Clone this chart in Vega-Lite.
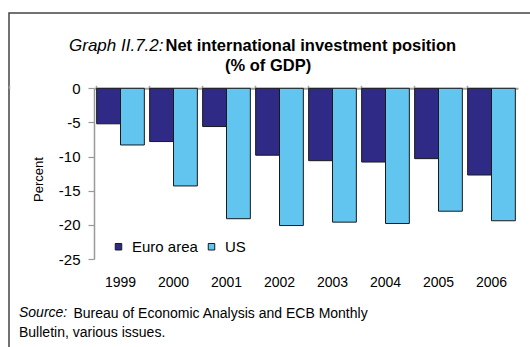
{
  "$schema": "https://vega.github.io/schema/vega-lite/v6.json",
  "width": 700,
  "height": 500,
  "autosize": {"type": "none"},
  "padding": {"left": 9, "top": 13, "right": -179, "bottom": -166},
  "background": "#ffffff",
  "title": {
    "text": "Source:",
    "subtitle": "Bulletin, various issues.",
    "orient": "bottom",
    "anchor": "start",
    "frame": "group",
    "align": "left",
    "dx": 10,
    "offset": -207,
    "font": "Liberation Sans",
    "fontSize": 14,
    "fontStyle": "italic",
    "fontWeight": "normal",
    "color": "#000000",
    "subtitleFont": "Liberation Sans",
    "subtitleFontSize": 14,
    "subtitleFontStyle": "normal",
    "subtitleFontWeight": "normal",
    "subtitleColor": "#000000",
    "subtitlePadding": 6
  },
  "data": {
    "values": [
      {"year": "1999", "series": "Euro area", "value": -5.2},
      {"year": "1999", "series": "US", "value": -8.3},
      {"year": "2000", "series": "Euro area", "value": -7.8},
      {"year": "2000", "series": "US", "value": -14.3},
      {"year": "2001", "series": "Euro area", "value": -5.6},
      {"year": "2001", "series": "US", "value": -19.1},
      {"year": "2002", "series": "Euro area", "value": -9.8},
      {"year": "2002", "series": "US", "value": -20.1},
      {"year": "2003", "series": "Euro area", "value": -10.6},
      {"year": "2003", "series": "US", "value": -19.6},
      {"year": "2004", "series": "Euro area", "value": -10.8},
      {"year": "2004", "series": "US", "value": -19.8},
      {"year": "2005", "series": "Euro area", "value": -10.3},
      {"year": "2005", "series": "US", "value": -18.0},
      {"year": "2006", "series": "Euro area", "value": -12.7},
      {"year": "2006", "series": "US", "value": -19.4}
    ]
  },
  "layer": [
    {
      "mark": {"type": "bar", "stroke": "#1a1a1a", "strokeWidth": 1},
      "encoding": {
        "x": {
          "field": "year",
          "type": "nominal",
          "scale": {"type": "band", "range": [85, 509], "paddingInner": 0.1, "paddingOuter": 0.05},
          "axis": {
            "orient": "bottom",
            "offset": -239,
            "domain": false,
            "ticks": false,
            "labelAngle": 0,
            "labelFontSize": 14,
            "labelColor": "#000000",
            "labelPadding": 1,
            "title": "Bureau of Economic Analysis and ECB Monthly",
            "titleX": 64,
            "titleY": 43,
            "titleAlign": "left",
            "titleAnchor": null,
            "titleBaseline": "alphabetic",
            "titleFontSize": 14,
            "titleFontWeight": "normal",
            "titleColor": "#000000"
          }
        },
        "xOffset": {"field": "series", "type": "nominal", "scale": {"paddingInner": 0}},
        "y": {
          "field": "value",
          "type": "quantitative",
          "scale": {"domain": [-25, 0], "range": [246, 75.3], "nice": false},
          "axis": {
            "orient": "left",
            "offset": -85,
            "values": [0, -5, -10, -15, -20, -25],
            "labelExpr": "toString(datum.value)",
            "grid": false,
            "domainColor": "#999999",
            "domainWidth": 1.5,
            "tickColor": "#999999",
            "tickWidth": 1.2,
            "tickSize": 6,
            "labelPadding": 8,
            "labelFontSize": 15,
            "labelColor": "#000000",
            "title": "Percent",
            "titleAngle": -90,
            "titleX": -56,
            "titleY": 166,
            "titleAlign": "center",
            "titleAnchor": null,
            "titleBaseline": "middle",
            "titleFontSize": 13,
            "titleFontWeight": "normal",
            "titleColor": "#000000"
          }
        },
        "color": {
          "field": "series",
          "type": "nominal",
          "scale": {"domain": ["Euro area", "US"], "range": ["#2e2a86", "#62c5f0"]},
          "legend": {
            "orient": "none",
            "legendX": 102,
            "legendY": 226,
            "direction": "horizontal",
            "title": null,
            "symbolType": "square",
            "symbolSize": 42,
            "symbolStrokeColor": "#1a1a1a",
            "symbolStrokeWidth": 1,
            "labelFontSize": 15,
            "labelColor": "#000000",
            "labelOffset": 6,
            "columnPadding": 6,
            "padding": 0
          }
        }
      }
    },
    {
      "mark": {"type": "point", "opacity": 0},
      "encoding": {
        "x": {
          "field": "year",
          "type": "nominal",
          "scale": {"type": "band", "range": [85, 509], "paddingInner": 0.1, "paddingOuter": 0.05},
          "axis": {
            "orient": "top",
            "offset": -75.3,
            "labels": false,
            "ticks": true,
            "tickSize": 3,
            "bandPosition": 0,
            "tickExtra": true,
            "tickColor": "#a0a0a0",
            "tickWidth": 1.5,
            "domainColor": "#a0a0a0",
            "domainWidth": 2,
            "title": "Graph II.7.2:",
            "titleX": 154,
            "titleY": -38.3,
            "titleAlign": "right",
            "titleAnchor": null,
            "titleBaseline": "alphabetic",
            "titleFontSize": 17,
            "titleFontStyle": "italic",
            "titleFontWeight": "normal",
            "titleColor": "#000000"
          }
        },
        "y": {
          "field": "value",
          "type": "quantitative",
          "scale": {"domain": [-25, 0], "range": [246, 75.3], "nice": false},
          "axis": {
            "orient": "right",
            "offset": 0,
            "domain": false,
            "ticks": false,
            "labels": false,
            "grid": false,
            "title": "Net international investment position",
            "titleAngle": 0,
            "titleX": -544,
            "titleY": 37,
            "titleAlign": "left",
            "titleAnchor": null,
            "titleBaseline": "alphabetic",
            "titleFontSize": 16.5,
            "titleFontWeight": "bold",
            "titleColor": "#000000"
          }
        },
        "shape": {
          "datum": "unit",
          "type": "nominal",
          "legend": {
            "orient": "none",
            "legendX": 216,
            "legendY": 45,
            "title": "(% of GDP)",
            "titleFont": "Liberation Sans",
            "titleFontSize": 16.5,
            "titleFontWeight": "bold",
            "titleColor": "#000000",
            "titlePadding": 0,
            "symbolOpacity": 0,
            "labelOpacity": 0,
            "padding": 0
          }
        }
      }
    }
  ],
  "resolve": {"axis": {"x": "independent", "y": "independent"}},
  "config": {
    "font": "Liberation Sans",
    "view": {"stroke": "#444444", "strokeWidth": 1.5},
    "axis": {"labelFont": "Liberation Sans", "titleFont": "Liberation Sans"},
    "legend": {"labelFont": "Liberation Sans"}
  }
}
